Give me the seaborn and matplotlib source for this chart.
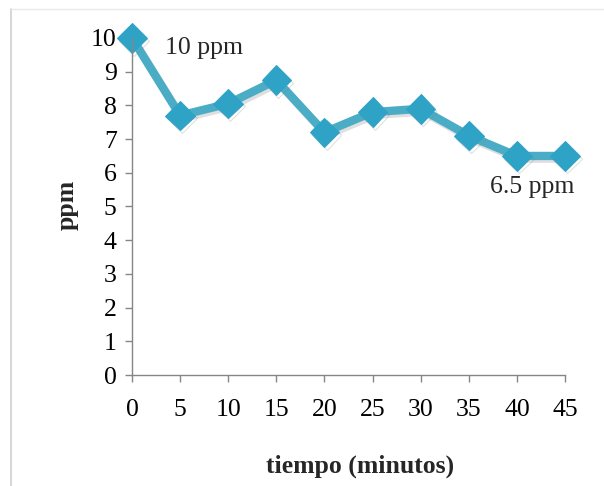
import matplotlib
matplotlib.use("Agg")
import matplotlib.pyplot as plt
import seaborn as sns
import pandas as pd
from matplotlib.lines import Line2D
import matplotlib.patheffects as pe

tiempo = [0, 5, 10, 15, 20, 25, 30, 35, 40, 45]
ppm = [10, 7.7, 8.05, 8.75, 7.2, 7.8, 7.9, 7.1, 6.5, 6.5]
x_ticks = [0, 5, 10, 15, 20, 25, 30, 35, 40, 45]
y_ticks = [0, 1, 2, 3, 4, 5, 6, 7, 8, 9, 10]

sns.set_style("white")
plt.rcParams['font.family'] = ['Liberation Serif', 'DejaVu Serif']

df = pd.DataFrame({"tiempo": tiempo, "ppm": ppm})

fig = plt.figure(figsize=(6.04, 4.86), dpi=100)
ax = fig.add_axes([132/604, 1-375/486, (565-132)/604, (375-38)/486])

sns.lineplot(data=df, x="tiempo", y="ppm", ax=ax, color="#4BACC6", linewidth=6,
             marker="D", markersize=15, markerfacecolor="#2FA3C6",
             markeredgecolor="#2FA3C6", clip_on=False,
             path_effects=[pe.SimpleLineShadow(offset=(1.5, -2), shadow_color="gray", alpha=0.25), pe.Normal()])

fs = 18.5
ax.set_xlim(0, 45)
ax.set_ylim(0, 10)
ax.set_xticks(x_ticks)
ax.set_yticks(y_ticks)
ax.set_xticklabels([str(v) for v in x_ticks], fontsize=fs)
ax.set_yticklabels([str(v) for v in y_ticks], fontsize=fs)
ax.set_xlabel("")
ax.set_ylabel("")

for s in ["top", "right"]:
    ax.spines[s].set_visible(False)
for s in ["left", "bottom"]:
    ax.spines[s].set_color("#868686")
    ax.spines[s].set_linewidth(1)
ax.tick_params(axis="both", direction="out", length=5, width=1, color="#868686",
               labelcolor="black", bottom=True, left=True)
ax.tick_params(axis="x", pad=12)
ax.tick_params(axis="y", pad=6)

ax.text(3.4, 9.7, "10 ppm", fontsize=fs, ha="left", va="center")
ax.text(37.2, 5.58, "6.5 ppm", fontsize=fs, ha="left", va="center")

fig.text(67/604, 1-205/486, "ppm", fontsize=fs, fontweight="bold", rotation=90,
         ha="center", va="center")
fig.text(360/604, 1-466/486, "tiempo (minutos)", fontsize=fs, fontweight="bold",
         ha="center", va="center")

# chart area frame (left and top edges)
fig.add_artist(Line2D([11/604, 11/604], [0, 1-9/486], transform=fig.transFigure, color="#D0D0D0", lw=1.2))
fig.add_artist(Line2D([11/604, 1], [1-9/486, 1-9/486], transform=fig.transFigure, color="#E8E8E8", lw=1))

fig.savefig("out.png", dpi=100)
